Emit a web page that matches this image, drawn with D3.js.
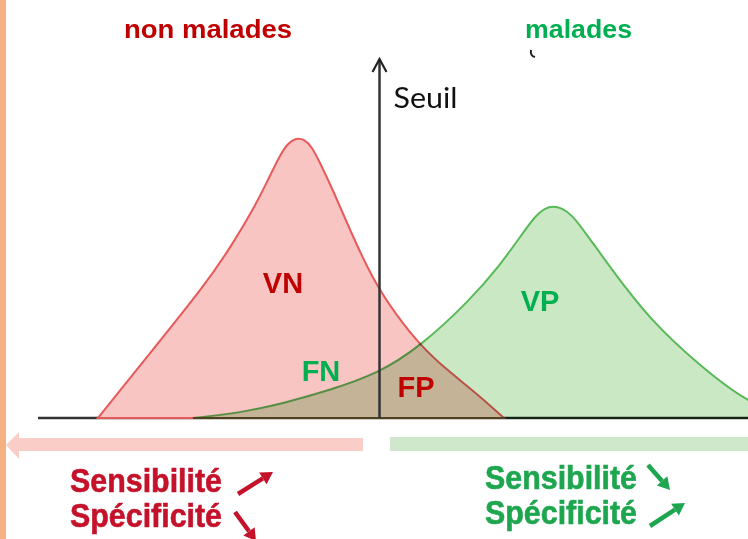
<!DOCTYPE html>
<html>
<head>
<meta charset="utf-8">
<script src="https://d3js.org/d3.v7.min.js"></script>
<style>
  body { margin: 0; background: #fff; }
  svg { display: block; }
</style>
</head>
<body>
<svg width="748" height="539"></svg>
<script>
// test score (0-100) and relative frequency (peak of non malades = 100)
const nonMaladesX = [8.45, 15.77, 23.52, 27.04, 30.28, 32.39, 34.08, 35.21, 36.34, 37.46, 38.59, 39.72, 41.55, 43.94, 47.18, 50.56, 53.80, 57.61, 61.55, 65.63];
const nonMaladesY = [0, 23.1, 47.5, 60.7, 74.3, 85.0, 93.9, 98.2, 100, 99.6, 96.8, 91.1, 81.4, 67.1, 49.3, 36.4, 26.1, 17.1, 9.3, 0];
const maladesX = [21.83, 28.45, 34.79, 41.13, 47.75, 53.80, 60.85, 65.07, 67.89, 70.0, 71.41, 72.54, 73.80, 75.21, 77.04, 80.56, 86.20, 93.24, 100, 105.9];
const maladesY = [0, 1.8, 5.4, 10.0, 15.7, 25.4, 42.1, 54.6, 64.6, 72.1, 75.0, 75.7, 75.0, 72.5, 66.4, 53.9, 35.0, 18.6, 5.4, 0];
const seuil = 48.1;
const groups = ["non malades", "malades"];
const cells = ["VN", "FN", "FP", "VP"];
const effetLabels = ["Sensibilité", "Spécificité"];

const RED = "#c00000", GREEN = "#00b050";

const svg = d3.select("svg");
const x = d3.scaleLinear().domain([0, 100]).range([38, 748]);
const y = d3.scaleLinear().domain([0, 100]).range([418, 138]);

const toPts = (xs, ys) => xs.map((v, i) => ({x: v, y: ys[i]}));

// left border strip
svg.append("rect").attr("x", 0).attr("y", 0).attr("width", 6).attr("height", 539).attr("fill", "#f6b183");

// titles
svg.append("text").attr("x", 124).attr("y", 38).text(groups[0])
  .attr("font-family", "Liberation Sans, Arial, sans-serif").attr("font-weight", "bold")
  .attr("font-size", 25).attr("fill", RED).attr("textLength", 168).attr("lengthAdjust", "spacingAndGlyphs");
svg.append("text").attr("x", 525).attr("y", 38).text(groups[1])
  .attr("font-family", "Liberation Sans, Arial, sans-serif").attr("font-weight", "bold")
  .attr("font-size", 25).attr("fill", GREEN).attr("textLength", 107).attr("lengthAdjust", "spacingAndGlyphs");
// stray mark under "malades"
svg.append("path").attr("d", "M531,50 Q530,56 535,57").attr("fill", "none").attr("stroke", "#222").attr("stroke-width", 2);

// baseline
svg.append("line").attr("x1", x(0)).attr("x2", x(100)).attr("y1", y(0)).attr("y2", y(0))
  .attr("stroke", "#333").attr("stroke-width", 2.5);

const area = d3.area().x(d => x(d.x)).y0(y(0)).y1(d => y(d.y)).curve(d3.curveBasis);

svg.append("path").datum(toPts(nonMaladesX, nonMaladesY)).attr("d", area)
  .attr("fill", "#f8c5c3").attr("stroke", "#e65a5a").attr("stroke-width", 2);
svg.append("path").datum(toPts(maladesX, maladesY)).attr("d", area)
  .attr("fill", "#cbe8c5").attr("stroke", "#58b958").attr("stroke-width", 2)
  .style("mix-blend-mode", "multiply");

// threshold arrow
const sx = x(seuil);
svg.append("line").attr("x1", sx).attr("x2", sx).attr("y1", y(0)).attr("y2", 59)
  .attr("stroke", "#333").attr("stroke-width", 2.5);
svg.append("path").attr("d", `M${sx - 7},72 L${sx},59 L${sx + 7},72`)
  .attr("fill", "none").attr("stroke", "#222").attr("stroke-width", 2.2);
svg.append("text").attr("x", sx + 14).attr("y", 108).text("Seuil")
  .attr("font-family", "Lato, sans-serif").attr("font-size", 29).attr("fill", "#111")
  .attr("textLength", 64).attr("lengthAdjust", "spacingAndGlyphs");

// cell labels
const cellPos = [[283, 293, RED], [321, 381, GREEN], [416, 397, RED], [540, 311, GREEN]];
svg.selectAll("text.cell").data(cells).enter().append("text").attr("class", "cell")
  .attr("x", (d, i) => cellPos[i][0]).attr("y", (d, i) => cellPos[i][1])
  .attr("text-anchor", "middle").attr("font-family", "Liberation Sans, Arial, sans-serif")
  .attr("font-weight", "bold").attr("font-size", 29).attr("fill", (d, i) => cellPos[i][2])
  .text(d => d);

// direction bars
svg.append("rect").attr("x", 17).attr("y", 438).attr("width", 346).attr("height", 13).attr("fill", "#fbcdc7");
svg.append("path").attr("d", "M6,445 L19,432 L19,459 Z").attr("fill", "#fbcdc7");
svg.append("rect").attr("x", 390).attr("y", 437).attr("width", 358).attr("height", 14).attr("fill", "#cfe8cb");

// bottom captions
const bottom = [
  {x: 70, y: 492, t: effetLabels[0], c: "#c5122b", a: [238, 494, 273, 472]},
  {x: 70, y: 527, t: effetLabels[1], c: "#c5122b", a: [235, 512, 256, 541]},
  {x: 485, y: 489, t: effetLabels[0], c: "#1ea64f", a: [648, 465, 670, 490]},
  {x: 485, y: 524, t: effetLabels[1], c: "#1ea64f", a: [650, 526, 685, 503]}
];
bottom.forEach(b => {
  svg.append("text").attr("x", b.x).attr("y", b.y).text(b.t)
    .attr("font-family", "Liberation Sans, Arial, sans-serif").attr("font-weight", "bold")
    .attr("font-size", 33).attr("fill", b.c).attr("stroke", b.c).attr("stroke-width", 0.6)
    .attr("textLength", 152).attr("lengthAdjust", "spacingAndGlyphs");
  const [x1, y1, x2, y2] = b.a;
  const ang = Math.atan2(y2 - y1, x2 - x1);
  const hl = 12, hw = 7;
  const bx = x2 - hl * Math.cos(ang), by = y2 - hl * Math.sin(ang);
  svg.append("line").attr("x1", x1).attr("y1", y1).attr("x2", bx).attr("y2", by)
    .attr("stroke", b.c).attr("stroke-width", 4.5);
  svg.append("path").attr("fill", b.c).attr("d",
    `M${x2},${y2} L${bx - hw * Math.sin(ang)},${by + hw * Math.cos(ang)} L${bx + hw * Math.sin(ang)},${by - hw * Math.cos(ang)} Z`);
});
</script>
</body>
</html>
